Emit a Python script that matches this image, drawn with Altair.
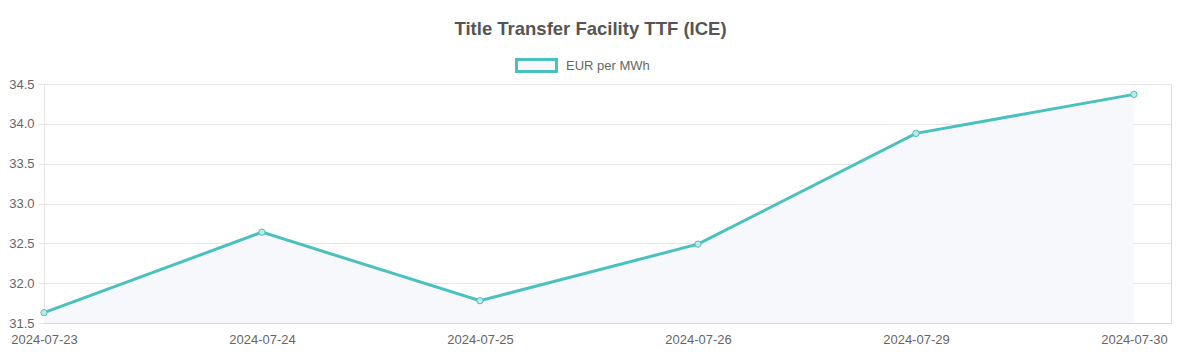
import altair as alt
import pandas as pd

# ---- data ----
dates = ["2024-07-23", "2024-07-24", "2024-07-25", "2024-07-26", "2024-07-29", "2024-07-30"]
prices = [31.63, 32.64, 31.78, 32.49, 33.88, 34.37]
series_name = "EUR per MWh"
y_ticks = [31.5, 32.0, 32.5, 33.0, 33.5, 34.0, 34.5]
title_text = "Title Transfer Facility TTF (ICE)"

df = pd.DataFrame({
    "idx": list(range(len(dates))),
    "date": dates,
    "price": prices,
    "series": [series_name] * len(dates),
})

TEAL = "#4bc0c0"
FILL = "#f6f8fb"
GRID = "#e6e6e6"
FONT = "Liberation Sans"

label_expr = "[" + ",".join(f"'{d}'" for d in dates) + "][datum.value]"

x = alt.X(
    "idx:Q",
    scale=alt.Scale(domain=[0, 5.17], nice=False, zero=False),
    axis=alt.Axis(
        values=list(range(len(dates))), labelExpr=label_expr, grid=False, ticks=False,
        title=None, labelPadding=10, labelFlush=False, labelOverlap=False,
        domainColor="#d6d6d6", labelColor="#666666", labelFontSize=13, labelFont=FONT,
    ),
)
y = alt.Y(
    "price:Q",
    scale=alt.Scale(domain=[31.5, 34.5], nice=False, zero=False),
    axis=alt.Axis(
        values=y_ticks, format=".1f", title=None, gridColor=GRID, tickColor=GRID,
        tickSize=6, domainColor=GRID, labelPadding=4, labelColor="#666666",
        labelFontSize=13, labelFont=FONT,
    ),
)

base = alt.Chart(df)

area = base.mark_area(color=FILL, opacity=1).encode(x=x, y=y, y2=alt.datum(31.5))

line = base.mark_line(strokeWidth=3).encode(
    x=x, y=y,
    color=alt.Color(
        "series:N",
        scale=alt.Scale(range=[TEAL]),
        legend=alt.Legend(
            title=None, orient="none", legendX=471, legendY=-40, padding=0,
            symbolType="M-1,-0.3L1,-0.3L1,0.3L-1,0.3Z", symbolSize=1600,
            symbolStrokeWidth=3, symbolFillColor=FILL, symbolStrokeColor=TEAL,
            labelFontSize=13, labelColor="#666666", labelFont=FONT, labelOffset=8,
        ),
    ),
)

points = base.mark_point(
    shape="circle", size=40, filled=True, fill="#bfe8e8", stroke=TEAL, strokeWidth=1, opacity=1
).encode(x=x, y=y)

chart = (
    alt.layer(area, line, points)
    .properties(
        width=1127, height=239,
        title=alt.Title(title_text, fontSize=18.5, font=FONT, color="#555555",
                        fontWeight="bold", anchor="middle", dx=-17, offset=6),
        autosize=alt.AutoSizeParams(type="none"),
        padding={"left": 36, "top": 76, "right": 8, "bottom": 26},
    )
    .configure_view(stroke=None)
    .configure(background="white")
)

chart.save("out.html", embed_options={"renderer": "svg", "actions": False})
